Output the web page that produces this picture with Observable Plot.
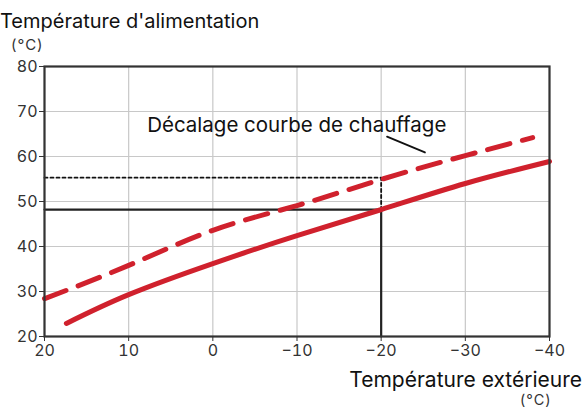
<!DOCTYPE html>
<html><head><meta charset="utf-8">
<script src="https://cdn.jsdelivr.net/npm/d3@7"></script>
<script src="https://cdn.jsdelivr.net/npm/@observablehq/plot@0.6"></script>
<style>
body{margin:0;background:#fff;font-family:Inter,"Noto Sans",sans-serif;}
#wrap{position:relative;width:584px;height:411px;}
.t{position:absolute;color:#111;white-space:nowrap;line-height:1;}
</style></head><body>
<div id="wrap">
<div id="chart" style="position:absolute;left:0;top:0;"></div>
<div class="t" style="left:0;top:11px;font-size:20px;">Température d'alimentation</div>
<div class="t" style="left:11px;top:37px;font-size:15px;letter-spacing:1px;color:#333;">(°C)</div>
<div class="t" style="right:2px;top:369px;font-size:21px;">Température extérieure</div>
<div class="t" style="left:520px;top:393px;font-size:14.5px;letter-spacing:1px;color:#333;">(°C)</div>
</div>
<script>
// Outdoor temperature (°C) and supply temperature (°C)
const curveX = [17.4, 10, 0, -10, -20, -30, -40];
const curveY = [22.9, 29.3, 36.2, 42.4, 48.2, 54.0, 58.9];
const offsetX = [20, 10, 0, -10, -20, -30, -38];
const offsetY = [28.4, 35.8, 43.6, 49.1, 54.9, 60.2, 64.2];
const xTicks = [20, 10, 0, -10, -20, -30, -40];
const yTicks = [20, 30, 40, 50, 60, 70, 80];
const refX = -20, refY = 48.2, refYShift = 55.3;
const label = "Décalage courbe de chauffage";
const labelPos = {x: 7.8, y: 67.0};
const leader = [{x: -20.7, y: 64.4}, {x: -25.2, y: 60.9}];

const curve = curveX.map((x, i) => ({x, y: curveY[i]}));
const offset = offsetX.map((x, i) => ({x, y: offsetY[i]}));
const red = "#d0212d";
const fmt = d => d < 0 ? "−" + Math.abs(d) : d;

const chart = Plot.plot({
  width: 584, height: 411,
  marginLeft: 44, marginRight: 35, marginTop: 66, marginBottom: 75,
  style: {fontFamily: "Inter, 'Noto Sans', sans-serif", fontSize: "16px", color: "#333", background: "transparent"},
  x: {domain: [20, -40], label: null},
  y: {domain: [20, 80], label: null},
  marks: [
    Plot.gridX(xTicks, {stroke: "#c8c8c8", strokeOpacity: 1, strokeWidth: 1.2}),
    Plot.gridY(yTicks, {stroke: "#c8c8c8", strokeOpacity: 1, strokeWidth: 1.2}),
    Plot.line([{x: 20, y: refYShift}, {x: refX, y: refYShift}, {x: refX, y: refY}], {x: "x", y: "y", stroke: "#111", strokeWidth: 1.8, strokeDasharray: "3,3"}),
    Plot.line([{x: 20, y: refY}, {x: refX, y: refY}, {x: refX, y: 20}], {x: "x", y: "y", stroke: "#222", strokeWidth: 2.2}),
    Plot.line(offset, {x: "x", y: "y", curve: "natural", stroke: red, strokeWidth: 5, strokeDasharray: "23,13", strokeLinecap: "round"}),
    Plot.line(curve, {x: "x", y: "y", curve: "natural", stroke: red, strokeWidth: 5, strokeLinecap: "round"}),
    Plot.line(leader, {x: "x", y: "y", stroke: "#111", strokeWidth: 1.8}),
    Plot.text([labelPos], {x: "x", y: "y", text: () => label, textAnchor: "start", fontSize: 20.5, fill: "#111"}),
    Plot.frame({stroke: "#333", strokeWidth: 2.2}),
    Plot.axisX({ticks: xTicks, tickFormat: fmt, fontSize: 16, stroke: "#333", tickSize: 5, tickPadding: 3}),
    Plot.axisY({ticks: yTicks, fontSize: 16, stroke: "#333", tickSize: 5, tickPadding: 2})
  ]
});
document.getElementById("chart").appendChild(chart);
</script>
</body></html>
